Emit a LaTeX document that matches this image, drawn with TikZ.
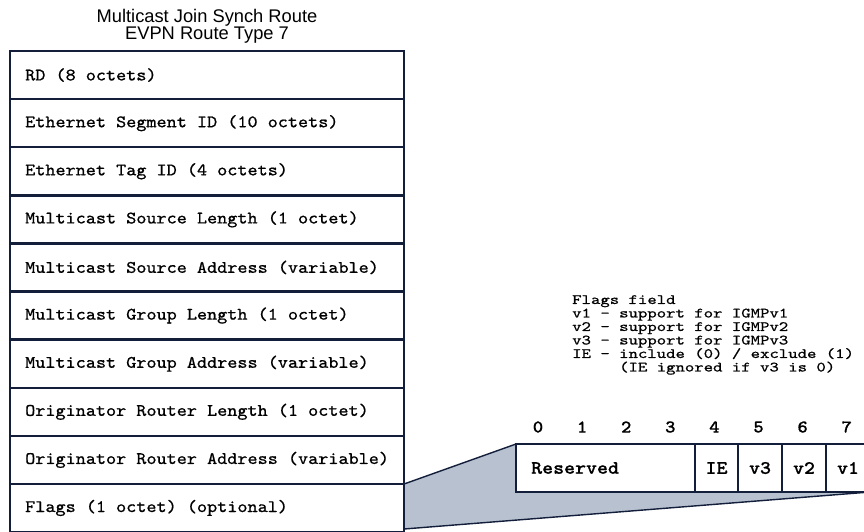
\documentclass[tikz,border=0pt]{standalone}
\usepackage{fontspec}
\setmainfont{Liberation Sans}
\newfontfamily\monofnt{lmmono10-regular.otf}[FakeStretch=1.1,FakeBold=0.8]
\newfontfamily\legfnt{lmmono10-regular.otf}[FakeStretch=1.26,FakeBold=0.8]
\newfontfamily\monobf{lmmonolt10-bold.otf}[FakeStretch=1.1,FakeBold=0.5]
\definecolor{navy}{RGB}{18,30,58}
\definecolor{slate}{RGB}{184,193,208}
\begin{document}
\begin{tikzpicture}[x=1pt,y=-1pt,
  rowbox/.style={draw=navy,line width=2.4pt,fill=white},
  rowtext/.style={anchor=west,inner sep=0pt,font=\monofnt\fontsize{17.5}{18}\selectfont,text=black},
  bitbox/.style={draw=navy,line width=2.4pt,fill=white},
  bittext/.style={inner sep=0pt,font=\monobf\fontsize{19}{20}\selectfont,text=black},
  bitnum/.style={inner sep=0pt,font=\monobf\fontsize{18}{19}\selectfont,text=black},
  zoomline/.style={draw=navy,line width=1.4pt}]
\useasboundingbox (0,0) rectangle (864,531);
\fill[white] (0,0) rectangle (864,531);
% title
\node[align=center,inner sep=0pt,font=\fontsize{18.3}{17}\selectfont] (title) at (207,26)
  {Multicast Join Synch Route\\EVPN Route Type 7};
% zoom trapezoid
\coordinate (zA) at (404,484);
\coordinate (zB) at (404,529);
\coordinate (fTL) at (516,444);
\coordinate (fBR) at (870,492);
\fill[slate] (zA) -- (fTL) -- (870,444) -- (fBR) -- (zB) -- cycle;
\draw[zoomline] (zA) -- (fTL);
\draw[zoomline] (zB) -- (fBR);
% stack
\foreach \i/\t in {0/{RD (8 octets)},1/{Ethernet Segment ID (10 octets)},2/{Ethernet Tag ID (4 octets)},
  3/{Multicast Source Length (1 octet)},4/{Multicast Source Address (variable)},
  5/{Multicast Group Length (1 octet)},6/{Multicast Group Address (variable)},
  7/{Originator Router Length (1 octet)},8/{Originator Router Address (variable)},
  9/{Flags (1 octet) (optional)}}{
  \draw[rowbox] (10,{51+48.1*\i}) rectangle (404,{51+48.1*(\i+1)});
  \node[rowtext] (row\i) at (25,{51+48.1*(\i+0.5)}) {\t};
}
% flags field legend
\node[anchor=north west,inner sep=0pt,align=left,
  font=\legfnt\fontsize{14.2}{13.5}\selectfont] (legend) at (572,295)
  {Flags field\\v1 - support for IGMPv1\\v2 - support for IGMPv2\\v3 - support for IGMPv3\\IE - include (0) / exclude (1)\\\phantom{IE - }(IE ignored if v3 is 0)};
% bit numbers
\foreach \b in {0,...,7}{
  \node[bitnum] (n\b) at ({538+44.1*\b},427) {\b};
}
% flags octet
\draw[bitbox] (516,444) rectangle (695,492);
\draw[bitbox] (695,444) rectangle (738,492);
\draw[bitbox] (738,444) rectangle (782,492);
\draw[bitbox] (782,444) rectangle (826,492);
\draw[bitbox] (826,444) rectangle (870,492);
\node[bittext,anchor=west] (res) at (531,468) {Reserved};
\node[bittext] (ie) at (716.5,468) {IE};
\node[bittext] (v3) at (760,468) {v3};
\node[bittext] (v2) at (804,468) {v2};
\node[bittext] (v1) at (848,468) {v1};
\end{tikzpicture}
\end{document}
